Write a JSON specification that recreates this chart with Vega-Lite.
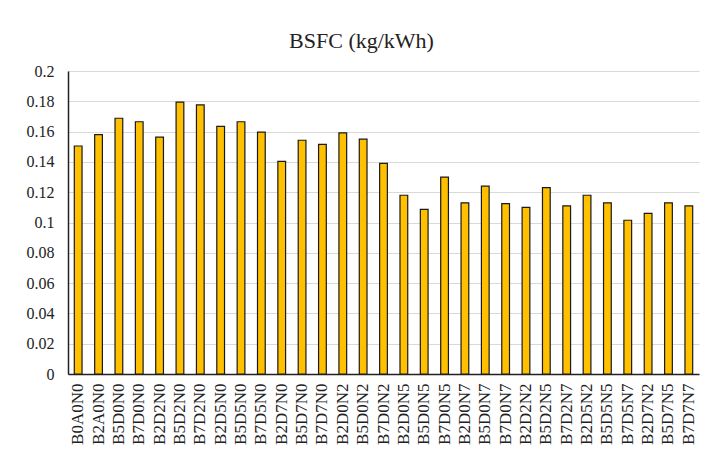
{
  "$schema": "https://vega.github.io/schema/vega-lite/v6.json",
  "width": 631,
  "height": 303,
  "autosize": {"type": "none"},
  "padding": {"left": 68, "top": 71, "right": 11, "bottom": 100},
  "background": "white",
  "title": {
    "text": "BSFC (kg/kWh)",
    "font": "'Liberation Serif', 'Times New Roman', serif",
    "fontSize": 22,
    "fontWeight": "normal",
    "color": "#222222",
    "anchor": "middle",
    "dx": -22,
    "offset": 10
  },
  "data": {
    "values": [
      {"fuel": "B0A0N0", "bsfc": 0.1505},
      {"fuel": "B2A0N0", "bsfc": 0.158},
      {"fuel": "B5D0N0", "bsfc": 0.1688},
      {"fuel": "B7D0N0", "bsfc": 0.1665},
      {"fuel": "B2D2N0", "bsfc": 0.1564},
      {"fuel": "B5D2N0", "bsfc": 0.1795},
      {"fuel": "B7D2N0", "bsfc": 0.1776},
      {"fuel": "B2D5N0", "bsfc": 0.1635},
      {"fuel": "B5D5N0", "bsfc": 0.1665},
      {"fuel": "B7D5N0", "bsfc": 0.1597},
      {"fuel": "B2D7N0", "bsfc": 0.1404},
      {"fuel": "B5D7N0", "bsfc": 0.1543},
      {"fuel": "B7D7N0", "bsfc": 0.1516},
      {"fuel": "B2D0N2", "bsfc": 0.1591},
      {"fuel": "B5D0N2", "bsfc": 0.155},
      {"fuel": "B7D0N2", "bsfc": 0.139},
      {"fuel": "B2D0N5", "bsfc": 0.118},
      {"fuel": "B5D0N5", "bsfc": 0.1086},
      {"fuel": "B7D0N5", "bsfc": 0.130},
      {"fuel": "B2D0N7", "bsfc": 0.113},
      {"fuel": "B5D0N7", "bsfc": 0.124},
      {"fuel": "B7D0N7", "bsfc": 0.1125},
      {"fuel": "B2D2N2", "bsfc": 0.110},
      {"fuel": "B5D2N5", "bsfc": 0.123},
      {"fuel": "B7D2N7", "bsfc": 0.111},
      {"fuel": "B2D5N2", "bsfc": 0.118},
      {"fuel": "B5D5N5", "bsfc": 0.113},
      {"fuel": "B7D5N7", "bsfc": 0.1015},
      {"fuel": "B2D7N2", "bsfc": 0.106},
      {"fuel": "B5D7N5", "bsfc": 0.113},
      {"fuel": "B7D7N7", "bsfc": 0.111}
    ]
  },
  "mark": {"type": "bar", "fill": "#FFC000", "stroke": "#1a1a1a", "strokeWidth": 1.2},
  "encoding": {
    "x": {
      "field": "fuel",
      "type": "nominal",
      "sort": null,
      "scale": {"paddingInner": 0.62, "paddingOuter": 0.31},
      "axis": {
        "title": null,
        "labelAngle": -90,
        "labelAlign": "right",
        "labelBaseline": "middle",
        "labelFont": "'Liberation Serif', 'Times New Roman', serif",
        "labelFontSize": 17,
        "labelColor": "#222222",
        "labelPadding": 9,
        "ticks": false,
        "domainColor": "#222222",
        "domainWidth": 1.5,
        "grid": false
      }
    },
    "y": {
      "field": "bsfc",
      "type": "quantitative",
      "scale": {"domain": [0, 0.2], "nice": false},
      "axis": {
        "title": null,
        "values": [0, 0.02, 0.04, 0.06, 0.08, 0.1, 0.12, 0.14, 0.16, 0.18, 0.2],
        "labelExpr": "datum.value == 0 ? '0' : format(datum.value, '.2~f')",
        "labelFont": "'Liberation Serif', 'Times New Roman', serif",
        "labelFontSize": 16,
        "labelColor": "#222222",
        "labelPadding": 14,
        "ticks": false,
        "domainColor": "#222222",
        "domainWidth": 1.5,
        "gridColor": "#d9d9d9",
        "gridWidth": 1.2
      }
    }
  },
  "config": {"view": {"stroke": null}}
}
